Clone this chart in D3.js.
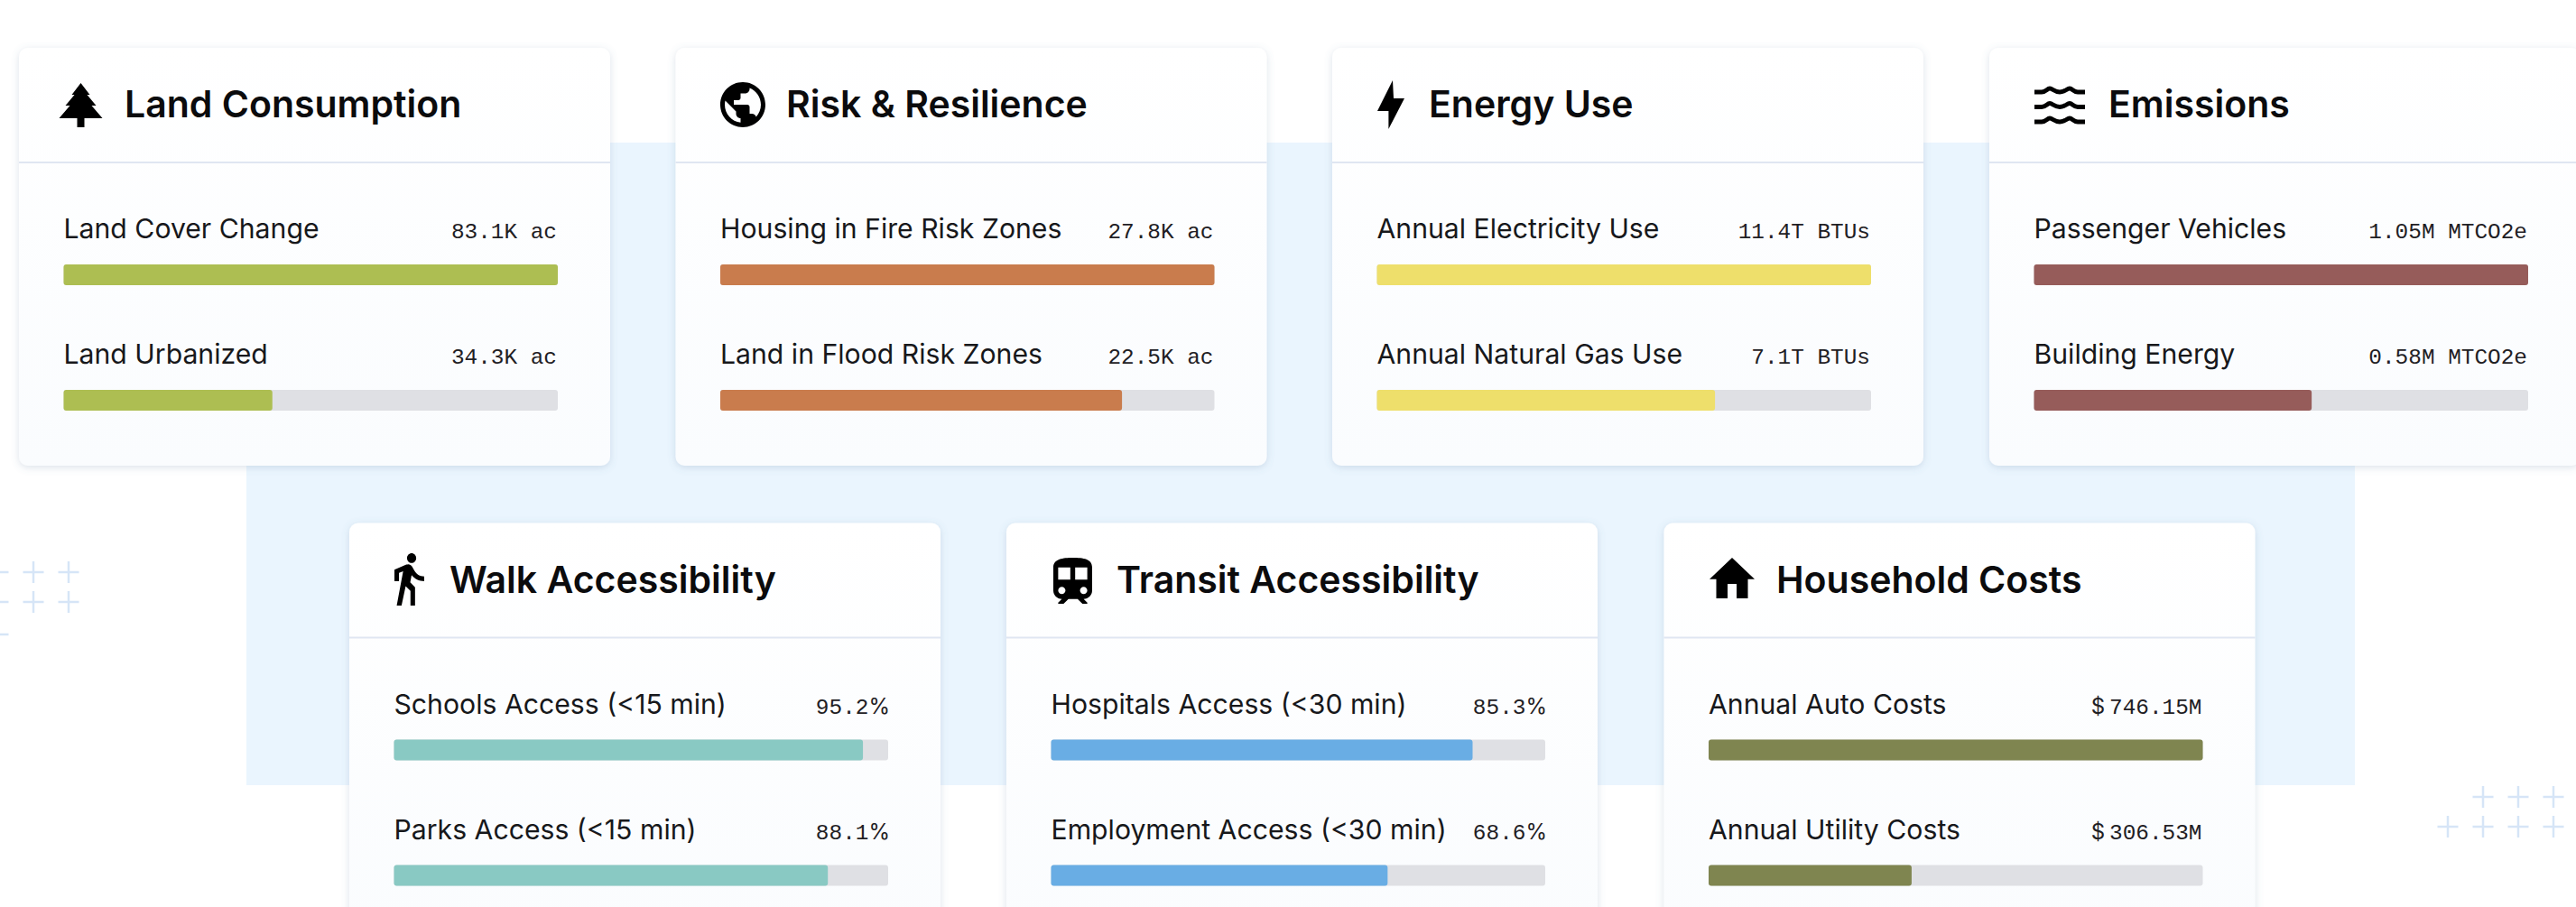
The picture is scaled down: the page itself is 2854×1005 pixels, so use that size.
<!DOCTYPE html>
<html lang="en">

<head>
  <meta charset="UTF-8">
  <title>Metrics cards</title>
  <style>
    * {
      padding: 0;
      margin: 0;
    }

    html,
    body {
      width: 100%;
      height: 100%;
      overflow: hidden;
      background: #fff;
    }

    svg {
      display: block;
    }

    .title {
      font-family: Inter, sans-serif;
      font-size: 41px;
      font-weight: 600;
      fill: #0b0b0d;
    }

    .label {
      font-family: Inter, sans-serif;
      font-size: 30.2px;
      font-weight: 400;
      fill: #17181b;
    }

    .value {
      font-family: "Liberation Mono", monospace;
      font-size: 24.4px;
      fill: #1f2024;
      text-anchor: end;
    }

    .value .sign {
      font-family: Inter, sans-serif;
      font-size: 24px;
    }
  </style>
</head>

<body>
  <svg id="svg"></svg>
  <script src="https://cdnjs.cloudflare.com/ajax/libs/d3/7.8.5/d3.min.js"></script>
  <script>
    const titles = ['Land Consumption', 'Risk & Resilience', 'Energy Use', 'Emissions',
      'Walk Accessibility', 'Transit Accessibility', 'Household Costs']
    const rowLabels = [
      ['Land Cover Change', 'Land Urbanized'],
      ['Housing in Fire Risk Zones', 'Land in Flood Risk Zones'],
      ['Annual Electricity Use', 'Annual Natural Gas Use'],
      ['Passenger Vehicles', 'Building Energy'],
      ['Schools Access (<15 min)', 'Parks Access (<15 min)'],
      ['Hospitals Access (<30 min)', 'Employment Access (<30 min)'],
      ['Annual Auto Costs', 'Annual Utility Costs']
    ]
    const valueLabels = [
      ['83.1K ac', '34.3K ac'],
      ['27.8K ac', '22.5K ac'],
      ['11.4T BTUs', '7.1T BTUs'],
      ['1.05M MTCO2e', '0.58M MTCO2e'],
      ['95.2%', '88.1%'],
      ['85.3%', '68.6%'],
      ['$746.15M', '$306.53M']
    ]
    // bar lengths, they don't always agree with the printed label
    const barValues = [
      [83.1, 35.1],
      [27.8, 22.6],
      [11.4, 7.8],
      [1.05, 0.59],
      [94.9, 87.8],
      [85.3, 68.1],
      [746.15, 306.53]
    ]
    const barMax = [83.1, 27.8, 11.4, 1.05, 100, 100, 746.15]
    const colors = ['#adbe52', '#c97c4d', '#eedf6b', '#965c5a', '#89c9c3', '#69ade4', '#7f8550']

    const dimension = { width: 2854, height: 1005 }
    const cardX = [21, 748.5, 1476, 2204, 387, 1115, 1843.5]
    const cardY = [53, 53, 53, 53, 579.5, 579.5, 579.5]
    const titleX = [138, 871, 1583, 2336, 498, 1237, 1968]
    const card = { width: 655, height: 463, radius: 10, divider: 127, titleBase: 77, padding: 49.5 }
    const rowBase = [211, 350]
    const rowBar = [240, 379]
    const barHeight = 23

    // [path, x0, y0, width, height of the path, target x, y, width, height]
    const icons = [
      ['M24 0L34 13H31L41 25H36L48 39H28V49H20V39H0L12 25H7L17 13H14Z', 0, 0, 48, 49, 65.5, 92, 48, 49],
      ['M12 2C6.48 2 2 6.48 2 12s4.48 10 10 10 10-4.48 10-10S17.52 2 12 2zm-1 17.93c-3.95-.49-7-3.85-7-7.93 0-.62.08-1.21.21-1.79L9 15v1c0 1.1.9 2 2 2v1.93zm6.9-2.54c-.26-.81-1-1.39-1.9-1.39h-1v-3c0-.55-.45-1-1-1H8v-2h2c.55 0 1-.45 1-1V7h2c1.1 0 2-.9 2-2v-.41c2.93 1.19 5 4.06 5 7.41 0 2.08-.8 3.97-2.1 5.39z', 2, 2, 20, 20, 798, 91, 50, 50],
      ['M17 0L0 34H12.4V54L30 20H18Z', 0, 0, 30, 54, 1526, 89, 30, 54],
      [null, 0, 0, 56, 42, 2254, 95, 56, 42],
      ['M13.5 5.5c1.1 0 2-.9 2-2s-.9-2-2-2-2 .9-2 2 .9 2 2 2zM9.8 8.9L7 23h2.1l1.8-8 2.1 2v6h2v-7.5l-2.1-2 .6-3C14.8 12 16.8 13 19 13v-2c-1.9 0-3.5-1-4.3-2.4l-1-1.6c-.4-.6-1-1-1.7-1-.3 0-.5.1-.8.1L6 8.3V13h2V9.6l1.8-.7', 6, 1.5, 13, 21.5, 437, 613, 33, 58],
      ['M12 2c-4 0-8 .5-8 4v9.5C4 17.43 5.57 19 7.5 19L6 20.5v.5h2.23l2-2H14l2 2h2v-.5L16.5 19c1.93 0 3.5-1.57 3.5-3.5V6c0-3.5-3.58-4-8-4zM7.5 17c-.83 0-1.5-.67-1.5-1.5S6.67 14 7.5 14s1.5.67 1.5 1.5S8.33 17 7.5 17zm3.5-6H6V6h5v5zm2 0V6h5v5h-5zm3.5 6c-.83 0-1.5-.67-1.5-1.5s.67-1.5 1.5-1.5 1.5.67 1.5 1.5-.67 1.5-1.5 1.5z', 4, 2, 16, 19, 1167, 618, 43, 51],
      ['M10 20v-6h4v6h5v-8h3L12 3 2 12h3v8z', 2, 3, 20, 17, 1894, 618, 50, 45]
    ]
    const wave = 'M0 6H8C13 6 14 2 17 2C20 2 22 6 28 6C34 6 36 2 39 2C42 2 43 6 48 6H56'

    const plusLeft = [[-2, 634], [37, 634], [76, 634], [-2, 667], [37, 667], [76, 667], [-2, 703]]
    const plusRight = [[2751, 883], [2790, 883], [2829, 883], [2712, 916], [2751, 916], [2790, 916], [2829, 916]]

    const svg = d3.select('#svg')
      .attr('width', dimension.width)
      .attr('height', dimension.height)

    const defs = svg.append('defs')
    const grad = defs.append('linearGradient')
      .attr('id', 'cardFill')
      .attr('x1', 0).attr('y1', 0).attr('x2', 0).attr('y2', 1)
    grad.append('stop').attr('offset', '0%').attr('stop-color', '#ffffff')
    grad.append('stop').attr('offset', '100%').attr('stop-color', '#fafcfe')

    const shadow = defs.append('filter')
      .attr('id', 'cardShadow')
      .attr('x', '-5%').attr('y', '-5%').attr('width', '110%').attr('height', '110%')
    shadow.append('feDropShadow')
      .attr('dx', 0).attr('dy', 2).attr('stdDeviation', 4)
      .attr('flood-color', '#5f7a9e').attr('flood-opacity', 0.22)

    // light blue panel behind the cards
    svg.append('rect')
      .attr('x', 273).attr('y', 158)
      .attr('width', 2336).attr('height', 712)
      .attr('fill', '#eaf5fe')

    svg.append('g')
      .attr('id', 'plus')
      .selectAll('path')
      .data(plusLeft.concat(plusRight))
      .join('path')
      .attr('d', d => `M${d[0] - 11.5} ${d[1]}h23M${d[0]} ${d[1] - 12}v24`)
      .attr('stroke', '#d6e5f7')
      .attr('stroke-width', 2.5)
      .attr('fill', 'none')

    const cards = svg.selectAll('.card')
      .data(titles.map((title, i) => ({ title, i })))
      .join('g')
      .attr('class', 'card')
      .attr('transform', d => `translate(${cardX[d.i]},${cardY[d.i]})`)

    cards.append('rect')
      .attr('width', card.width)
      .attr('height', card.height)
      .attr('rx', card.radius)
      .attr('fill', 'url(#cardFill)')
      .attr('filter', 'url(#cardShadow)')

    cards.append('line')
      .attr('x1', 0).attr('x2', card.width)
      .attr('y1', card.divider).attr('y2', card.divider)
      .attr('stroke', '#e0e6f2')
      .attr('stroke-width', 2)

    cards.append('text')
      .attr('class', 'title')
      .attr('x', d => titleX[d.i] - cardX[d.i])
      .attr('y', card.titleBase)
      .text(d => d.title)

    // icons go straight on the svg, their targets are page coordinates
    icons.forEach(([path, x0, y0, w, h, tx, ty, tw, th]) => {
      const g = svg.append('g')
        .attr('class', 'icon')
        .attr('transform', `translate(${tx},${ty}) scale(${tw / w},${th / h}) translate(${-x0},${-y0})`)
      if (path) {
        g.append('path').attr('d', path).attr('fill', '#000')
      } else {
        g.selectAll('path')
          .data([1, 17.5, 34])
          .join('path')
          .attr('d', wave)
          .attr('transform', d => `translate(0,${d})`)
          .attr('fill', 'none')
          .attr('stroke', '#000')
          .attr('stroke-width', 5)
      }
    })

    cards.each(function (d) {
      const x = d3.scaleLinear()
        .domain([0, barMax[d.i]])
        .range([0, 547.5])

      const rows = d3.select(this)
        .selectAll('.row')
        .data(barValues[d.i].map((value, r) => ({ value, r })))
        .join('g')
        .attr('class', 'row')
        .attr('transform', `translate(${card.padding},0)`)

      rows.append('text')
        .attr('class', 'label')
        .attr('x', 0)
        .attr('y', e => rowBase[e.r])
        .text(e => rowLabels[d.i][e.r])

      // $ and % sit in the proportional font in the original, the rest is mono
      const values = rows.append('text')
        .attr('class', 'value')
        .attr('x', e => x.range()[1] + (valueLabels[d.i][e.r].endsWith('%') ? 2 : -1))
        .attr('y', e => rowBase[e.r])

      values.each(function (e) {
        const label = valueLabels[d.i][e.r]
        const t = d3.select(this)
        if (label[0] === '$') {
          t.append('tspan').attr('class', 'sign').text('$')
          t.append('tspan').attr('dx', 5).text(label.slice(1))
        } else if (label.endsWith('%')) {
          t.append('tspan').text(label.slice(0, -1))
          t.append('tspan').attr('class', 'sign').text('%')
        } else {
          t.text(label)
        }
      })

      rows.append('rect')
        .attr('y', e => rowBar[e.r])
        .attr('width', x.range()[1])
        .attr('height', barHeight)
        .attr('rx', 3)
        .attr('fill', '#dfe0e4')

      rows.append('rect')
        .attr('y', e => rowBar[e.r])
        .attr('width', e => x(e.value))
        .attr('height', barHeight)
        .attr('rx', 3)
        .attr('fill', colors[d.i])
    })
  </script>
</body>

</html>
